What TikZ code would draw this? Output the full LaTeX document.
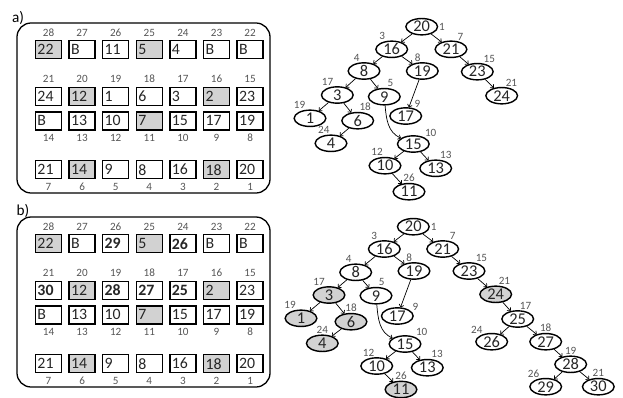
\documentclass[tikz,border=0pt]{standalone}
\usepackage{fontspec}
\setmainfont{Carlito}
\usetikzlibrary{arrows.meta, shapes.geometric}
\definecolor{shadecolor}{RGB}{210,210,210}
\definecolor{idcolor}{RGB}{85,85,85}

\begin{document}
\begin{tikzpicture}[
    x=0.03cm, y=-0.03cm,
    cellw/.style={rectangle, draw, line width=1.2pt, text width=0.66cm, align=left, inner xsep=0.06cm, inner ysep=0pt, minimum height=0.54cm, font=\fontsize{13.5}{13.5}\selectfont, text=black!85},
    cellg/.style={cellw, fill=shadecolor},
    cellb/.style={cellw, font=\fontsize{13.5}{13.5}\selectfont\bfseries},
    idx/.style={font=\fontsize{9.5}{9.5}\selectfont, text=idcolor, inner sep=0.6pt},
    tnode/.style={ellipse, draw, line width=1.2pt, minimum width=0.95cm, minimum height=0.49cm, inner sep=0pt, font=\fontsize{14}{14}\selectfont, text=black!85},
    tgray/.style={tnode, fill=shadecolor},
    arrow/.style={-{To[length=2.5pt,width=4.5pt]}, line width=0.6pt},
    panel/.style={rectangle, draw, line width=1.1pt, rounded corners=12pt, minimum width=7.59cm, minimum height=5.1cm}
]
\useasboundingbox (0,0) rectangle (623,398);

%% panel a) : memory
\node[font=\fontsize{13}{13}\selectfont] (alabel) at (18,18) {a)};
\node[panel] (boxa) at (143.5,108) {};
\foreach \t/\s [count=\i] in {22/cellg, B/cellw, 11/cellw, 5/cellg, 4/cellw, B/cellw, B/cellw}{
  \pgfmathtruncatemacro{\n}{29-\i}
  \node[\s] (a1-\i) at ({48.5+33.6*(\i-1)},49.7) {\t};
  \node[idx] (a1n-\i) at ({48.5+33.6*(\i-1)},33) {\n};
}
\foreach \t/\s [count=\i] in {24/cellw, 12/cellg, 1/cellw, 6/cellw, 3/cellw, 2/cellg, 23/cellw}{
  \pgfmathtruncatemacro{\n}{22-\i}
  \node[\s] (a2-\i) at ({48.5+33.6*(\i-1)},96.3) {\t};
  \node[idx] (a2n-\i) at ({48.5+33.6*(\i-1)},79) {\n};
}
\foreach \t/\s [count=\i] in {B/cellw, 13/cellw, 10/cellw, 7/cellg, 15/cellw, 17/cellw, 19/cellw}{
  \pgfmathtruncatemacro{\n}{15-\i}
  \node[\s] (a3-\i) at ({48.5+33.6*(\i-1)},120.8) {\t};
  \node[idx] (a3n-\i) at ({48.5+33.6*(\i-1)},138) {\n};
}
\foreach \t/\s [count=\i] in {21/cellw, 14/cellg, 9/cellw, 8/cellw, 16/cellw, 18/cellg, 20/cellw}{
  \pgfmathtruncatemacro{\n}{8-\i}
  \node[\s] (a4-\i) at ({48.5+33.6*(\i-1)},169.7) {\t};
  \node[idx] (a4n-\i) at ({48.5+33.6*(\i-1)},186.7) {\n};
}

%% panel a) : tree
\node[tnode, label={[idx]right:1}] (a20) at (421.7,26.7) {20};
\node[tnode, label={[idx]125:3}] (a16) at (391.7,49.3) {16};
\node[tnode, label={[idx]56:7}] (a21) at (451,49.3) {21};
\node[tnode, label={[idx]113:4}] (a8) at (364,71) {8};
\node[tnode, label={[idx]95:8}] (a19) at (422.3,71) {19};
\node[tnode, label={[idx]57:15}] (a23) at (477.3,71.7) {23};
\node[tnode, label={[idx]110:17}] (a3) at (337.3,95) {3};
\node[tnode, label={[idx]75:5}] (a9) at (384.3,96.7) {9};
\node[tnode, label={[idx]70:21}] (a24) at (501.7,95.7) {24};
\node[tnode, label={[idx]114:19}] (a1) at (310,118.3) {1};
\node[tnode, label={[idx]84:18}] (a6) at (357.7,120.7) {6};
\node[tnode, label={[idx]44:9}] (a17) at (405.7,116) {17};
\node[tnode, label={[idx]94:24}] (a4) at (331,143.3) {4};
\node[tnode, label={[idx]32:10}] (a15) at (413.3,144) {15};
\node[tnode, label={[idx]99:12}] (a10) at (385,165.7) {10};
\node[tnode, label={[idx]68:13}] (a13) at (435.7,168.3) {13};
\node[tnode, label={[idx]90:26}] (a11) at (409,191.7) {11};

\draw[arrow] (a20) -- (a16);
\draw[arrow] (a20) -- (a21);
\draw[arrow] (a16) -- (a8);
\draw[arrow] (a16) -- (a19);
\draw[arrow] (a21) -- (a23);
\draw[arrow] (a8) -- (a3);
\draw[arrow] (a8) -- (a9);
\draw[arrow] (a19) -- (a17);
\draw[arrow] (a23) -- (a24);
\draw[arrow] (a3) -- (a1);
\draw[arrow] (a3) -- (a6);
\draw[arrow] (a6) -- (a4);
\draw[arrow] (a9) to[out=-85, in=155] (a15);
\draw[arrow] (a15) -- (a10);
\draw[arrow] (a15) -- (a13);
\draw[arrow] (a10) -- (a11);

%% panel b) : memory
\node[font=\fontsize{13}{13}\selectfont] (blabel) at (23,211) {b)};
\node[panel] (boxb) at (143.5,302) {};
\foreach \t/\s [count=\i] in {22/cellg, B/cellw, 29/cellb, 5/cellg, 26/cellb, B/cellw, B/cellw}{
  \pgfmathtruncatemacro{\n}{29-\i}
  \node[\s] (b1-\i) at ({48.5+33.6*(\i-1)},243.7) {\t};
  \node[idx] (b1n-\i) at ({48.5+33.6*(\i-1)},227) {\n};
}
\foreach \t/\s [count=\i] in {30/cellb, 12/cellg, 28/cellb, 27/cellb, 25/cellb, 2/cellg, 23/cellw}{
  \pgfmathtruncatemacro{\n}{22-\i}
  \node[\s] (b2-\i) at ({48.5+33.6*(\i-1)},290.3) {\t};
  \node[idx] (b2n-\i) at ({48.5+33.6*(\i-1)},273) {\n};
}
\foreach \t/\s [count=\i] in {B/cellw, 13/cellw, 10/cellw, 7/cellg, 15/cellw, 17/cellw, 19/cellw}{
  \pgfmathtruncatemacro{\n}{15-\i}
  \node[\s] (b3-\i) at ({48.5+33.6*(\i-1)},314.8) {\t};
  \node[idx] (b3n-\i) at ({48.5+33.6*(\i-1)},332) {\n};
}
\foreach \t/\s [count=\i] in {21/cellw, 14/cellg, 9/cellw, 8/cellw, 16/cellw, 18/cellg, 20/cellw}{
  \pgfmathtruncatemacro{\n}{8-\i}
  \node[\s] (b4-\i) at ({48.5+33.6*(\i-1)},363.7) {\t};
  \node[idx] (b4n-\i) at ({48.5+33.6*(\i-1)},380.7) {\n};
}

%% panel b) : tree
\node[tnode, label={[idx]right:1}] (b20) at (413.3,226.7) {20};
\node[tnode, label={[idx]128:3}] (b16) at (384.3,249) {16};
\node[tnode, label={[idx]53:7}] (b21) at (442.7,249) {21};
\node[tnode, label={[idx]110:4}] (b8) at (355.7,272.3) {8};
\node[tnode, label={[idx]96:8}] (b19) at (414,271) {19};
\node[tnode, label={[idx]55:15}] (b23) at (469,271) {23};
\node[tgray, label={[idx]111:17}] (b3) at (329,295) {3};
\node[tnode, label={[idx]77:5}] (b9) at (376,295.7) {9};
\node[tgray, label={[idx]76:21}] (b24) at (495.7,294.3) {24};
\node[tgray, label={[idx]117:19}] (b1) at (301,318.3) {1};
\node[tgray, label={[idx]90:18}] (b6) at (351,321.7) {6};
\node[tnode, label={[idx]17:9}] (b17) at (397.3,316) {17};
\node[tgray, label={[idx]90:24}] (b4) at (322.3,343.3) {4};
\node[tnode, label={[idx]82:17}] (b25) at (517.7,319) {25};
\node[tnode, label={[idx]35:10}] (b15) at (405,344) {15};
\node[tnode, label={[idx]137:24}] (b26) at (491.7,341.7) {26};
\node[tnode, label={[idx]90:18}] (b27) at (545.7,341.7) {27};
\node[tnode, label={[idx]100:12}] (b10) at (376.7,366) {10};
\node[tnode, label={[idx]70:13}] (b13) at (427.3,367.7) {13};
\node[tnode, label={[idx]90:19}] (b28) at (570.7,364.3) {28};
\node[tgray, label={[idx]90:26}] (b11) at (401,389.5) {11};
\node[tnode, label={[idx]124:26}] (b29) at (545.7,386.7) {29};
\node[tnode, label={[idx]90:21}] (b30) at (598.3,386.7) {30};

\draw[arrow] (b20) -- (b16);
\draw[arrow] (b20) -- (b21);
\draw[arrow] (b16) -- (b8);
\draw[arrow] (b16) -- (b19);
\draw[arrow] (b21) -- (b23);
\draw[arrow] (b8) -- (b3);
\draw[arrow] (b8) -- (b9);
\draw[arrow] (b19) -- (b17);
\draw[arrow] (b23) -- (b24);
\draw[arrow] (b3) -- (b1);
\draw[arrow] (b3) -- (b6);
\draw[arrow] (b6) -- (b4);
\draw[arrow] (b9) to[out=-85, in=155] (b15);
\draw[arrow] (b15) -- (b10);
\draw[arrow] (b15) -- (b13);
\draw[arrow] (b10) -- (b11);
\draw[arrow] (b24) -- (b25);
\draw[arrow] (b25) -- (b26);
\draw[arrow] (b25) -- (b27);
\draw[arrow] (b27) -- (b28);
\draw[arrow] (b28) -- (b29);
\draw[arrow] (b28) -- (b30);

\end{tikzpicture}
\end{document}
